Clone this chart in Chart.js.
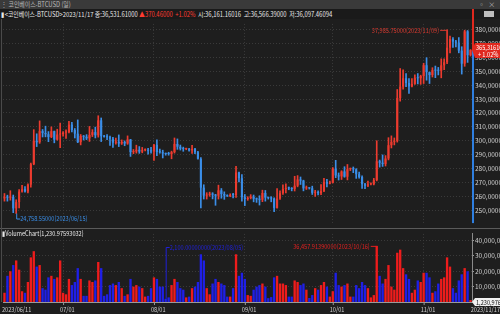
<!DOCTYPE html>
<html>
<head>
<meta charset="utf-8">
<script src="https://cdn.jsdelivr.net/npm/chart.js@4.4.1/dist/chart.umd.min.js"></script>
<style>
  body { margin: 0; width: 500px; height: 314px; overflow: hidden; background: #1e1e1e;
         font-family: "Noto Sans CJK KR", sans-serif; position: relative; }
  #title { position: absolute; left: 0; top: 0; width: 500px; height: 9px; background: #3a3a3a;
           color: #b8b8b8; font-size: 7px; line-height: 9px; white-space: nowrap; }
  #info { position: absolute; left: 0; top: 9px; width: 500px; height: 10px; background: #1a1a1a;
          color: #e8e8e8; font-size: 7px; line-height: 10px; white-space: nowrap; }
  .narrow { display: inline-block; transform: scaleX(0.84); transform-origin: 0 50%; }
  .up { color: #ff3b30; }
  #sep { position: absolute; left: 0; top: 228px; width: 500px; height: 1px; background: #5a5a5a; }
  #edge { position: absolute; left: 1px; top: 19px; width: 1px; height: 283px; background: #4a4a4a; }
  canvas { position: absolute; left: 0; }
  #price { top: 19px; }
  #vol { top: 229px; }
</style>
</head>
<body>
<div id="title"><span class="narrow">&nbsp;⋮&nbsp;코인베이스-BTCUSD (일)</span><span style="position:absolute;left:478px;">▫&nbsp;&nbsp;×</span></div>
<div id="info"><span class="narrow">&nbsp;▮&lt;코인베이스-BTCUSD&gt;2023/11/17 종:36,531.61000 <span class="up">▲370.46000 &nbsp;+1.02%</span> &nbsp;시:36,161.16016 &nbsp;고:36,566.39000 &nbsp;저:36,097.46094</span><span style="position:absolute;left:472px;top:0;width:2px;height:10px;background:#e0281e;"></span><span style="position:absolute;left:484px;top:2px;width:10px;height:6px;background:#bdbdbd;"></span></div>
<canvas id="price" width="500" height="209"></canvas>
<div id="sep"></div>
<div id="edge"></div>
<canvas id="vol" width="500" height="85"></canvas>
<script>
// daily candles 2023/06/11 .. 2023/11/17
const startDate = new Date(2023, 5, 11);
const dates = [];
for (let i = 0; i < 160; i++) {
  const d = new Date(startDate.getFullYear(), startDate.getMonth(), startDate.getDate() + i);
  dates.push(d.getFullYear() + '/' + String(d.getMonth() + 1).padStart(2, '0') + '/' + String(d.getDate()).padStart(2, '0'));
}

const opens = [
  25850,25940,25900,25950,25130,25580,26340,26510,26340,26840,28310,30000,29890,30690,30550,30470,30270,30690,30080,30450,
  30480,30590,30620,31160,30770,30510,29900,30350,30290,30170,30420,30620,30390,31470,30320,30290,30250,30150,29860,29920,29800,29910,29800,30090,29180,29230,29350,29220,29320,29350,29280,
  29230,29700,29180,29170,29090,29050,29040,29180,29770,29570,29430,29400,29420,29300,29420,29170,28700,26620,26050,26100,26190,26120,26040,26430,26160,26050,26010,26100,26090,27720,27300,
  25930,25800,25870,25970,25820,25780,25750,26240,25900,25890,25840,25160,25840,26230,26530,26600,26570,26530,26760,27210,27130,26570,26580,26575,26250,26300,26220,26370,27030,26910,
  26970,27990,27500,27430,27790,27410,27950,27970,27940,27590,27390,26870,26760,26860,26865,27160,28520,28420,28330,28720,29680,29920,29990,33080,33900,34500,34160,33910,34090,34540,34500,
  34660,35440,34940,34730,35080,35050,35040,35430,35650,36700,37320,37140,37070,36490,35550,37880,36161.16
];
const highs = [
  26200,26080,26400,26090,25750,26480,26780,26690,26900,28400,30800,30500,31430,30810,31050,30660,31000,30700,30830,31280,
  30660,30790,31390,31330,30880,31500,30450,30380,30440,31030,30800,30980,31800,31640,30390,30450,30340,30240,30200,30420,30060,29990,30350,30100,29370,29680,29580,29520,29420,29450,29530,
  29750,30060,29400,29320,29120,29170,29250,30200,30130,29690,29540,29470,29450,29670,29450,29240,28780,26830,26260,26300,26260,26140,26800,26560,26320,26110,26180,26220,28150,27750,27570,
  26130,25970,26120,26090,25880,26040,26440,26420,25940,25970,25880,26560,26390,26820,26890,26670,26630,27440,27490,27390,27160,26740,26630,26730,26430,26390,26840,27300,27230,27090,
  28070,28590,27680,27840,28130,28290,28040,28110,27990,27740,27480,26940,27100,26970,27290,30000,28610,28980,28930,30220,30350,30200,33690,35200,35100,34830,34470,34470,34740,34840,34720,
  35580,35980,34950,35260,35380,35280,35900,35900,37985.75,37530,37420,37230,37430,36770,37960,37940,36566.39
];
const lows = [
  25650,25650,25720,24820,24758.55,25170,26290,26290,26250,26660,28270,29580,29810,30270,30280,29930,30220,29850,30040,29500,
  30330,30160,30560,30640,30200,29860,29700,30050,30080,29950,30300,30200,30260,29940,30250,30080,29670,29520,29760,29580,29730,29640,29740,28870,29070,29110,29090,29130,29270,29040,29110,
  28580,28930,29100,28760,28960,28960,28700,29110,29380,29330,29240,29350,29250,29080,29060,28680,25170,25800,25800,26000,25810,25350,25800,25860,25780,25980,25970,25880,25910,27030,25650,
  25330,25710,25810,25600,25560,25370,25610,25650,25800,25600,24900,25140,25770,26130,26240,26470,26390,26380,26680,26850,26390,26490,26520,26130,25990,26090,26110,26330,26680,26890,
  26960,27340,27170,27210,27370,27180,27850,27700,27290,27300,26560,26540,26690,26810,26820,27110,28100,28150,28180,28620,29480,29700,29900,32850,33720,33900,33400,33870,34060,34090,34060,
  34120,34360,34120,34590,34540,34740,34530,35110,35550,36330,36720,36760,36330,34800,35360,35640,36097.46
];
const closes = [
  25940,25900,25950,25130,25580,26340,26510,26340,26840,28310,30000,29890,30690,30550,30470,30270,30690,30080,30450,30480,
  30590,30620,31160,30770,30510,29900,30350,30290,30170,30420,30620,30390,31470,30320,30290,30250,30150,29860,29920,29800,29910,29800,30090,29180,29230,29350,29220,29320,29350,29280,29230,
  29700,29180,29170,29090,29050,29040,29180,29770,29570,29430,29400,29420,29300,29420,29170,28700,26620,26050,26100,26190,26120,26040,26430,26160,26050,26010,26100,26090,27720,27300,25930,
  25800,25870,25970,25820,25780,25750,26240,25900,25890,25840,25160,25840,26230,26530,26600,26570,26530,26760,27210,27130,26570,26580,26575,26250,26300,26220,26370,27030,26910,26970,
  27990,27500,27430,27790,27410,27950,27970,27940,27590,27390,26870,26760,26860,26865,27160,28520,28420,28330,28720,29680,29920,29990,33080,33900,34500,34160,33910,34090,34540,34500,34660,
  35440,34940,34730,35080,35050,35040,35430,35650,36700,37320,37140,37070,36490,35550,37880,36160,36531.61
];
// volume in BTC
const volumes = [
  6000,17000,20000,24000,27000,21000,7000,6000,13000,29000,33000,23000,24000,9000,8000,16000,17000,15000,16000,27000,
  6000,5000,15000,11000,13000,22000,15000,4000,4000,14000,13000,14000,26000,22000,4000,5000,11000,12000,11000,13000,9000,4000,5000,15000,10000,11000,10000,9000,3500,4000,9000,
  16000,15000,10000,10000,2100,3000,11000,15000,13000,9000,8000,3000,3500,9000,10000,13000,31000,27000,9000,5000,12000,15000,13000,12000,11000,3500,3500,9000,31000,17000,19000,
  15000,4500,4000,8000,10000,11000,12000,10000,2500,3200,16000,17000,12000,12000,11000,3500,3500,14000,13000,11000,12000,8000,2600,4500,9000,8000,11000,13000,10000,3500,
  7000,19000,11000,10000,11000,12000,3500,3500,11000,9000,13000,11000,9000,3000,4500,36457.9139,17000,12000,15000,24000,10000,8000,32000,34000,22000,18000,15000,6000,8000,14000,13000,
  19000,19000,16000,6000,7000,12000,15000,16000,29000,23000,9000,6000,14000,18000,22000,20000,1230.97593032
];

const priceTicks = [25000,26000,27000,28000,29000,30000,31000,32000,33000,34000,35000,36000,37000,38000];
const volTicks = [10000,20000,30000,40000];

const RED = '#ec3b2f', BLUE = '#3b8ee8';
const VRED = '#ee1c1c', VBLUE = '#1f1fe6';
const FONT = '"Noto Sans CJK KR", sans-serif';

const candleColors = opens.map((o, i) => closes[i] >= o ? RED : BLUE);
const volColors = opens.map((o, i) => closes[i] >= o ? VRED : VBLUE);
const bodies = opens.map((o, i) => [o, closes[i]]);
const wicks = lows.map((l, i) => [l, highs[i]]);
const isMonthStart = i => dates[i] && dates[i].endsWith('/01');

function priceLabel(v) {
  const s = String(Math.round(v * 1000));
  return s.slice(0, 3) + ',' + s.slice(3);
}
function volLabel(v) {
  return Math.round(v * 1000).toLocaleString('en-US');
}
function withComma(v, d) {
  return v.toFixed(d).replace(/\B(?=(\d{3})+(?!\d))/, ',');
}
// narrow text, like the terminal's bitmap font
function narrowText(ctx, s, x, y, align) {
  const sx = 0.8;
  const w = ctx.measureText(s).width * sx;
  const left = align === 'right' ? x - w : x;
  ctx.save();
  ctx.translate(left, y);
  ctx.scale(sx, 1);
  ctx.textAlign = 'left';
  ctx.fillText(s, 0, 0);
  ctx.restore();
}

const priceDeco = {
  id: 'priceDeco',
  afterDraw(chart) {
    const { ctx, chartArea: a, scales: { x, y } } = chart;
    const last = closes.length - 1;
    const yc = y.getPixelForValue(closes[last]);
    ctx.save();
    // right axis line, red above close, blue below
    ctx.fillStyle = '#e0281e';
    ctx.fillRect(a.right, 0, 2, yc);
    ctx.fillStyle = '#2f7fe0';
    ctx.fillRect(a.right, yc, 2, a.bottom - yc);

    let hi = 0, lo = 0;
    highs.forEach((v, i) => { if (v > highs[hi]) hi = i; });
    lows.forEach((v, i) => { if (v < lows[lo]) lo = i; });
    ctx.font = '7px ' + FONT;
    ctx.textBaseline = 'middle';
    // highest high
    const xh = x.getPixelForValue(hi), yh = y.getPixelForValue(highs[hi]);
    ctx.strokeStyle = '#d83a30'; ctx.lineWidth = 1;
    ctx.beginPath(); ctx.moveTo(xh - 7, yh + 0.5); ctx.lineTo(xh, yh + 0.5); ctx.stroke();
    ctx.fillStyle = '#d83a30';
    narrowText(ctx, withComma(highs[hi], 5) + '(' + dates[hi] + ')', xh - 8, yh, 'right');

    // lowest low
    const xl = x.getPixelForValue(lo), yl = y.getPixelForValue(lows[lo]);
    ctx.strokeStyle = '#3a8de6';
    ctx.beginPath(); ctx.moveTo(xl + 0.5, yl); ctx.lineTo(xl + 0.5, yl + 5.5); ctx.lineTo(xl + 4, yl + 5.5); ctx.stroke();
    ctx.fillStyle = '#3a8de6';
    narrowText(ctx, withComma(lows[lo], 5) + '(' + dates[lo] + ')', xl + 4, yl + 5, 'left');

    // current price box
    ctx.fillStyle = '#e0281e';
    ctx.beginPath();
    ctx.moveTo(a.right, yc); ctx.lineTo(a.right + 3, yc - 7); ctx.lineTo(500, yc - 7);
    ctx.lineTo(500, yc + 8); ctx.lineTo(a.right + 3, yc + 8); ctx.closePath(); ctx.fill();
    ctx.fillStyle = '#ffffff';
    narrowText(ctx, priceLabel(closes[last]), a.right + 4, yc - 3, 'left');
    narrowText(ctx, '+ 1.02%', a.right + 6, yc + 4, 'left');
    ctx.restore();
  }
};

const volDeco = {
  id: 'volDeco',
  afterDraw(chart) {
    const { ctx, chartArea: a, scales: { x, y } } = chart;
    ctx.save();
    ctx.font = '7px ' + FONT;
    ctx.textBaseline = 'middle';
    // panel caption
    ctx.fillStyle = '#e8e8e8';
    narrowText(ctx, '▮VolumeChart(1,230.97593032)', 2, 4, 'left');

    // highest / lowest volume markers
    let hi = 0, lo = 0;
    volumes.forEach((v, i) => { if (v > volumes[hi]) hi = i; if (v < volumes[lo] && i < volumes.length - 1) lo = i; });
    const xh = x.getPixelForValue(hi), yh = y.getPixelForValue(volumes[hi]);
    ctx.strokeStyle = '#e02020'; ctx.lineWidth = 1;
    ctx.beginPath(); ctx.moveTo(xh - 6, yh + 0.5); ctx.lineTo(xh, yh + 0.5); ctx.stroke();
    ctx.fillStyle = '#e02020';
    narrowText(ctx, '36,457.91390000(' + dates[hi] + ')', xh - 7, yh, 'right');

    const xl = x.getPixelForValue(lo), yl = y.getPixelForValue(volumes[lo]);
    ctx.strokeStyle = '#2020d8';
    ctx.beginPath(); ctx.moveTo(xl + 0.5, yl); ctx.lineTo(xl + 0.5, 18.5); ctx.lineTo(xl + 4, 18.5); ctx.stroke();
    ctx.fillStyle = '#2020d8';
    narrowText(ctx, withComma(volumes[lo], 8) + '(' + dates[lo] + ')', xl + 4, 18, 'left');

    // current volume box
    ctx.fillStyle = '#f0f0f0';
    ctx.fillRect(a.right + 3, a.bottom - 4, 26, 8);
    ctx.beginPath(); ctx.moveTo(a.right, a.bottom); ctx.lineTo(a.right + 3, a.bottom - 4); ctx.lineTo(a.right + 3, a.bottom + 4); ctx.fill();
    ctx.fillStyle = '#111';
    narrowText(ctx, volLabel(volumes[volumes.length - 1]), a.right + 4, a.bottom, 'left');

    // date axis labels
    ctx.fillStyle = '#d0d0d0';
    ctx.strokeStyle = '#9a9a9a';
    const ly = a.bottom + 7;
    narrowText(ctx, dates[0], 2, ly, 'left');
    dates.forEach((d, i) => {
      if (!isMonthStart(i)) return;
      const px = x.getPixelForValue(i);
      ctx.beginPath(); ctx.moveTo(px + 0.5, a.bottom); ctx.lineTo(px + 0.5, a.bottom + 3); ctx.stroke();
      narrowText(ctx, d.slice(5), px - 3, ly, 'left');
    });
    narrowText(ctx, dates[dates.length - 1], 500, ly, 'right');
    ctx.restore();
  }
};

const monthGrid = {
  color: c => isMonthStart(c.index) ? '#3c3c3c' : 'rgba(0,0,0,0)',
  offset: false, drawTicks: false, lineWidth: 1
};

new Chart(document.getElementById('price'), {
  type: 'bar',
  data: {
    labels: dates,
    datasets: [
      { data: wicks, backgroundColor: candleColors, barThickness: 1, grouped: false, minBarLength: 1 },
      { data: bodies, backgroundColor: candleColors, barPercentage: 0.72, categoryPercentage: 1, grouped: false, minBarLength: 1 }
    ]
  },
  options: {
    responsive: false, animation: false,
    layout: { padding: { left: 3, top: 1, right: 0, bottom: 0 } },
    plugins: { legend: { display: false }, tooltip: { enabled: false } },
    scales: {
      x: {
        offset: true,
        grid: monthGrid,
        border: { display: false, dash: [1, 2] },
        ticks: { display: false, autoSkip: false }
      },
      y: {
        position: 'right', min: 24069, max: 38414,
        afterFit: s => { s.width = 28; },
        afterBuildTicks: s => { s.ticks = priceTicks.map(v => ({ value: v })); },
        grid: { color: '#3a3a3a', tickColor: '#9a9a9a', tickLength: 2, drawTicks: true },
        border: { display: false, dash: [1, 2] },
        ticks: { color: '#cfcfcf', font: { size: 6.5, family: FONT }, padding: 1, callback: v => priceLabel(v) }
      }
    }
  },
  plugins: [priceDeco]
});

new Chart(document.getElementById('vol'), {
  type: 'bar',
  data: {
    labels: dates,
    datasets: [
      { data: volumes, backgroundColor: volColors, barPercentage: 0.8, categoryPercentage: 1, minBarLength: 1 }
    ]
  },
  options: {
    responsive: false, animation: false,
    layout: { padding: { left: 3, top: 0, right: 0, bottom: 12 } },
    plugins: { legend: { display: false }, tooltip: { enabled: false } },
    scales: {
      x: {
        offset: true,
        grid: monthGrid,
        border: { display: true, color: '#9a9a9a', dash: [1, 2] },
        ticks: { display: false, autoSkip: false }
      },
      y: {
        position: 'right', min: 0, max: 44240,
        afterFit: s => { s.width = 28; },
        afterBuildTicks: s => { s.ticks = volTicks.map(v => ({ value: v })); },
        grid: { color: '#3a3a3a', tickColor: '#9a9a9a', tickLength: 2, drawTicks: true },
        border: { display: true, color: '#8a8a8a', dash: [1, 2] },
        ticks: { color: '#cfcfcf', font: { size: 6.5, family: FONT }, padding: 1, callback: v => volLabel(v) }
      }
    }
  },
  plugins: [volDeco]
});
</script>
</body>
</html>
